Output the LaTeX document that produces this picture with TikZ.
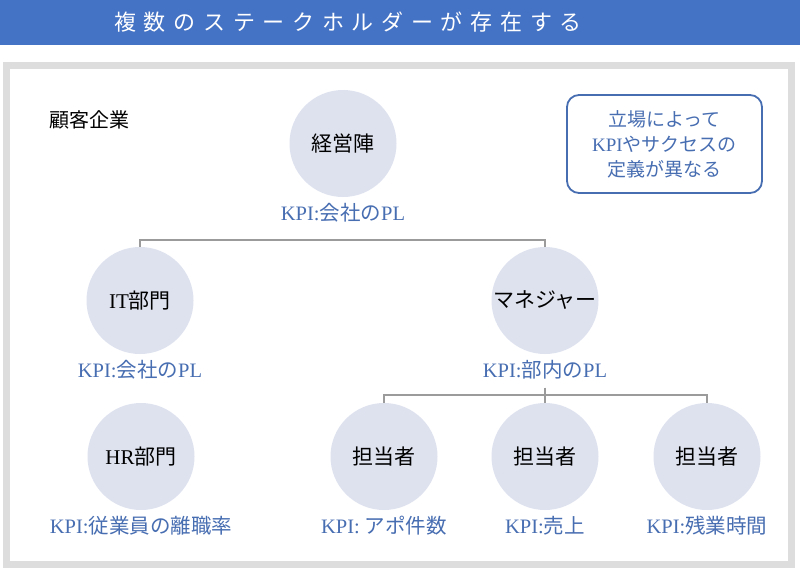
\documentclass[tikz,border=0pt]{standalone}
\usepackage{fontspec}
\setmainfont{Liberation Serif}
\newfontfamily\jp{Noto Sans CJK JP}
\newfontfamily\jptitle[LetterSpace=35]{Noto Sans CJK JP}
\definecolor{band}{RGB}{68,114,196}
\definecolor{kpiblue}{RGB}{72,110,178}
\definecolor{circ}{RGB}{222,226,239}
\definecolor{framegray}{RGB}{221,221,221}
\definecolor{linegray}{RGB}{155,155,155}
\newcommand{\J}[1]{{\jp #1}}
\begin{document}
\begin{tikzpicture}[x=1pt,y=-1pt,
  person/.style={circle, fill=circ, minimum size=107pt, inner sep=0pt, font=\fontsize{21}{24}\selectfont},
  kpi/.style={text=kpiblue, font=\fontsize{20.5}{24}\selectfont, inner sep=0pt},
  tree/.style={draw=linegray, line width=1.8pt}]
\useasboundingbox (0,0) rectangle (800,570);
\fill[white] (0,0) rectangle (800,570);
\fill[band] (0,0) rectangle (800,45);
\node[text=white, font=\jptitle\fontsize{22}{26}\selectfont, inner sep=0pt] (title) at (348,22) {複数のステークホルダーが存在する};
\draw[framegray, line width=7pt] (6.5,65) rectangle (791.5,564.5);
\node[font=\jp\fontsize{20}{24}\selectfont, anchor=west, inner sep=0pt] (client) at (49,120) {顧客企業};
\node[draw=kpiblue, line width=1.8pt, rounded corners=12pt, minimum width=195pt, minimum height=98pt, text=kpiblue, align=center, font=\fontsize{19}{25}\selectfont] (note) at (664.5,144) {\J{立場によって}\\KPI\J{やサクセスの}\\\J{定義が異なる}};

\node[person] (exec) at (343,143.5) {\J{経営陣}};
\node[kpi] (execk) at (343,213) {KPI:\J{会社の}PL};
\node[person] (it) at (140,300.5) {IT\J{部門}};
\node[kpi] (itk) at (140,370) {KPI:\J{会社の}PL};
\node[person] (mgr) at (545,300.5) {\J{マネジャー}};
\node[kpi] (mgrk) at (545,370) {KPI:\J{部内の}PL};
\node[person] (hr) at (141,456.5) {HR\J{部門}};
\node[kpi] (hrk) at (141,526) {KPI:\J{従業員の離職率}};
\node[person] (s1) at (384,456.5) {\J{担当者}};
\node[kpi] (s1k) at (384,526) {KPI: \J{アポ件数}};
\node[person] (s2) at (545,456.5) {\J{担当者}};
\node[kpi] (s2k) at (545,526) {KPI:\J{売上}};
\node[person] (s3) at (707,456.5) {\J{担当者}};
\node[kpi] (s3k) at (707,526) {KPI:\J{残業時間}};

\coordinate (t1) at (343,240);
\draw[tree] (it.north) -- (it.north |- t1) -- (mgr.north |- t1) -- (mgr.north);
\coordinate (t2) at (545,395);
\draw[tree] (s1.north) -- (s1.north |- t2) -- (s3.north |- t2) -- (s3.north);
\draw[tree] ([yshift=-8pt]mgrk.south) -- (s2.north);
\end{tikzpicture}
\end{document}
